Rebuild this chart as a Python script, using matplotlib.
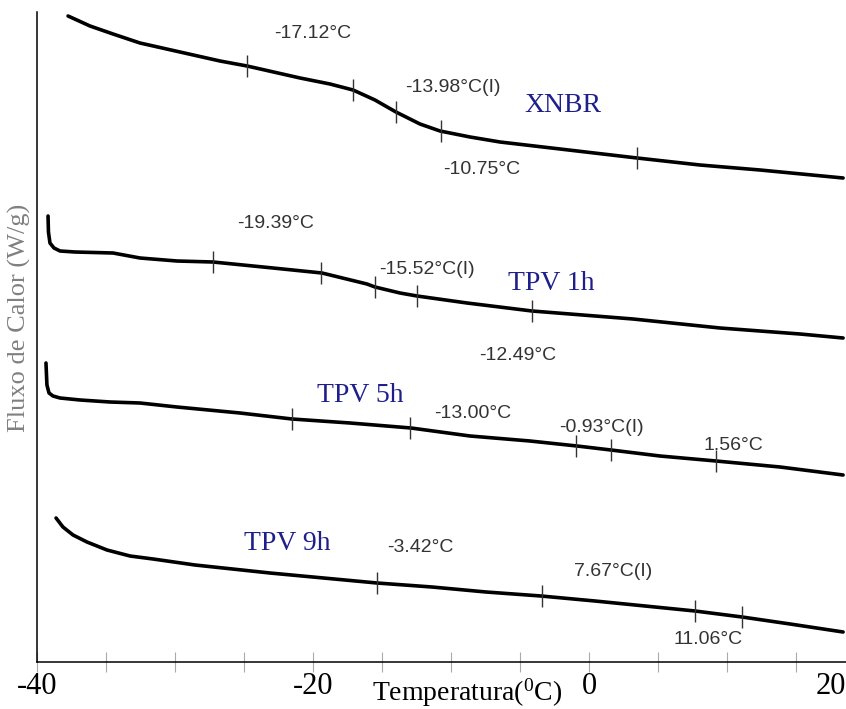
"""DSC curves: XNBR and TPV (1h, 5h, 9h)"""
import numpy as np
import matplotlib.pyplot as plt

plt.rcParams['mathtext.fontset'] = 'custom'
plt.rcParams['mathtext.rm'] = 'Liberation Serif'

# temperature (degC) and heat flow (arbitrary, curves offset vertically)
xnbr_t = [-37.75, -36.16, -34.49, -32.54, -29.64, -26.74, -24.78, -20.94, -18.77, -17.10,
          -15.51, -13.99, -12.25, -10.80, -8.62, -6.45, -2.10, 3.48, 8.04, 12.39, 18.41]
xnbr_hf = [6.46, 6.36, 6.28, 6.19, 6.10, 6.01, 5.96, 5.84, 5.78, 5.72,
           5.62, 5.50, 5.38, 5.31, 5.25, 5.20, 5.13, 5.04, 4.97, 4.92, 4.84]

tpv1_t = [-39.20, -39.17, -39.06, -38.77, -38.33, -37.25, -34.49, -32.54, -29.86, -27.25,
          -22.90, -19.35, -16.09, -15.51, -13.70, -12.46, -8.84, -4.13, 3.19, 9.49, 15.29, 18.41]
tpv1_hf = [4.46, 4.30, 4.19, 4.14, 4.11, 4.10, 4.09, 4.04, 4.01, 4.00,
           3.94, 3.89, 3.78, 3.75, 3.69, 3.66, 3.59, 3.51, 3.43, 3.34, 3.28, 3.24]

tpv5_t = [-39.35, -39.28, -39.13, -38.84, -38.33, -36.88, -34.71, -32.54, -29.86, -25.29,
          -21.52, -17.32, -12.90, -8.62, -4.28, -0.87, 1.59, 5.14, 9.20, 13.84, 18.41]
tpv5_hf = [2.99, 2.77, 2.69, 2.66, 2.64, 2.62, 2.60, 2.59, 2.55, 2.49,
           2.43, 2.39, 2.34, 2.26, 2.21, 2.16, 2.12, 2.06, 2.01, 1.95, 1.87]

tpv9_t = [-38.62, -38.12, -37.39, -36.38, -34.93, -33.26, -31.59, -28.55, -23.12, -15.36,
          -11.38, -7.46, -3.48, 0.43, 7.68, 11.09, 14.57, 18.41]
tpv9_hf = [1.44, 1.35, 1.27, 1.20, 1.12, 1.06, 1.03, 0.97, 0.89, 0.79,
           0.75, 0.70, 0.66, 0.61, 0.51, 0.45, 0.38, 0.30]

# analysis marks on each curve (degC)
xnbr_marks = [-24.78, -17.12, -13.98, -10.75, 3.48]
tpv1_marks = [-27.25, -19.39, -15.52, -12.49, -4.13]
tpv5_marks = [-21.52, -13.00, -0.93, 1.56, 9.20]
tpv9_marks = [-15.36, -3.42, 7.67, 11.06]

# annotations: (text, T, heat flow)
xnbr_notes = [('-17.12°C', -20.0, 6.29), ('-13.98°C(I)', -9.9, 5.74), ('-10.75°C', -7.75, 4.92)]
tpv1_notes = [('-19.39°C', -22.68, 4.38), ('-15.52°C(I)', -11.74, 3.92), ('-12.49°C', -5.14, 3.07)]
tpv5_notes = [('-13.00°C', -8.41, 2.49), ('-0.93°C(I)', 0.87, 2.34), ('1.56°C', 10.43, 2.16)]
tpv9_notes = [('-3.42°C', -12.20, 1.14), ('7.67°C(I)', 1.75, 0.90), ('11.06°C', 8.60, 0.22)]

sample_names = ['XNBR', 'TPV 1h', 'TPV 5h', 'TPV 9h']
name_t = [-1.88, -2.75, -16.59, -21.90]
name_hf = [5.57, 3.79, 2.67, 1.19]

curves = [
    (xnbr_t, xnbr_hf, xnbr_marks, xnbr_notes),
    (tpv1_t, tpv1_hf, tpv1_marks, tpv1_notes),
    (tpv5_t, tpv5_hf, tpv5_marks, tpv5_notes),
    (tpv9_t, tpv9_hf, tpv9_marks, tpv9_notes),
]

fig = plt.figure(figsize=(8.46, 7.09), dpi=100)
ax = fig.add_axes([37 / 846, 47 / 709, 809 / 846, 650 / 709])

for t, hf, marks, notes in curves:
    ax.plot(t, hf, color='black', linewidth=2.6, solid_capstyle='round', solid_joinstyle='round')
    mark_hf = np.interp(marks, t, hf)
    ax.plot(marks, mark_hf, linestyle='none', marker='|', markersize=16,
            markeredgewidth=1.0, color='#333333')
    for txt, x, y in notes:
        ax.text(x, y, txt, ha='center', va='center', fontsize=14,
                family='Liberation Sans', color='#333333')

for name, x, y in zip(sample_names, name_t, name_hf):
    ax.text(x, y, name, ha='center', va='center', fontsize=20,
            family='Liberation Serif', color='#1f1f8c')

ax.set_xlim(-40, 18.62)
ax.set_ylim(0, 6.5)

ax.spines['top'].set_visible(False)
ax.spines['right'].set_visible(False)
for s in ['left', 'bottom']:
    ax.spines[s].set_linewidth(1.1)
    ax.spines[s].set_color('black')

ax.set_yticks([])
ax.set_xticks([-40, -20, 0])
ax.set_xticklabels(['-40', '-20', '0'], family='Liberation Serif', fontsize=22)
ax.set_xticks(np.arange(-35, 18, 5), minor=True)
ax.tick_params(axis='x', which='both', direction='inout', length=14, width=0.8,
               color='#aaaaaa', pad=0)
ax.annotate('20', xy=(1, 0), xycoords='axes fraction', xytext=(0, -7),
            textcoords='offset points', ha='right', va='top',
            family='Liberation Serif', fontsize=22)

ax.set_xlabel(r'Temperatura($\mathregular{^{0}}$C)', family='Liberation Serif', fontsize=20)
ax.xaxis.set_label_coords(0.532, -0.022)
ax.set_ylabel('Fluxo de Calor (W/g)', family='Liberation Serif', fontsize=19, color='#808080')
ax.yaxis.set_label_coords(-0.008, 0.53)

plt.savefig('out.png', dpi=100)
